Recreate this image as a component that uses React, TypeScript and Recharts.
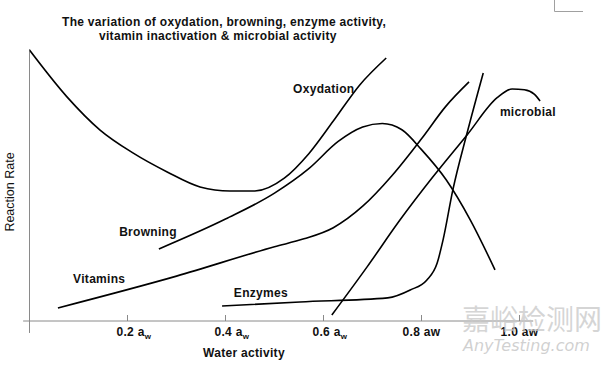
import React from 'react';
import { LineChart, Line, XAxis, YAxis, ReferenceLine, ReferenceDot } from 'recharts';

// water activity (x) vs relative reaction rate (y, 0-100)
const oxydationX = [0, 0.076, 0.144, 0.211, 0.281, 0.348, 0.409, 0.46, 0.52, 0.57, 0.62, 0.674, 0.728];
const oxydationY = [99.6, 82.5, 70.2, 61.8, 54.8, 49.3, 47.8, 47.8, 52.5, 61.5, 73.5, 86.8, 96.7];

const browningX = [0.264, 0.4, 0.5, 0.57, 0.63, 0.68, 0.72, 0.76, 0.8, 0.85, 0.9, 0.95];
const browningY = [26.5, 37.5, 47, 56, 66, 71.3, 72.6, 70.3, 63, 52, 37, 18.8];

const vitaminsX = [0.058, 0.3, 0.5, 0.56, 0.62, 0.68, 0.74, 0.8, 0.85, 0.897];
const vitaminsY = [4.8, 16.5, 27.3, 30.2, 34.3, 42.2, 53.5, 67, 79, 87.9];

const enzymesX = [0.393, 0.552, 0.731, 0.777, 0.811, 0.832, 0.844, 0.864, 0.893, 0.926];
const enzymesY = [5.5, 7.0, 8.5, 11.4, 15.1, 21.3, 29.8, 48.2, 69.1, 91.2];

const microbialX = [0.617, 0.689, 0.756, 0.823, 0.893, 0.955, 0.985, 1.01, 1.03, 1.042];
const microbialY = [2.2, 19.9, 37.1, 52.9, 68.4, 82.2, 85.3, 85.0, 83.4, 80.9];

const tickValues = [0.2, 0.4, 0.6, 0.8, 1.0];
const tickLabels = ['0.2', '0.4', '0.6', '0.8', '1.0'];
const tickSubscript = [true, true, true, false, false];

const seriesNames = ['Oxydation', 'Browning', 'Vitamins', 'Enzymes', 'microbial'];
// where each curve name sits (data coords, left baseline)
const nameX = [0.538, 0.183, 0.089, 0.417, 0.96];
const nameY = [83.8, 31.3, 14.0, 8.8, 75.4];

const toPoints = (xs: number[], ys: number[]) => xs.map((x, i) => ({ x, y: ys[i] }));

const FONT = '"Liberation Sans", Arial, sans-serif';
const AXIS_COLOR = '#8a8a8a';

function WaTick(props: any) {
  const { x, y, payload, index } = props;
  const i = tickValues.indexOf(payload.value);
  const label = tickLabels[i >= 0 ? i : index];
  const sub = tickSubscript[i >= 0 ? i : index];
  return (
    <g>
      <line x1={x} x2={x} y1={y} y2={y - 6} stroke={AXIS_COLOR} strokeWidth={1} />
      <text
        x={sub ? x - 11 : x}
        y={y + 15}
        textAnchor={sub ? 'start' : 'middle'}
        fontFamily={FONT}
        fontWeight="bold"
        fontSize={12}
        letterSpacing={0.3}
        fill="#111"
      >
        {label} a
        {sub ? (
          <tspan fontSize={8} dy={3}>w</tspan>
        ) : (
          'w'
        )}
      </text>
    </g>
  );
}

const seriesData = [
  toPoints(oxydationX, oxydationY),
  toPoints(browningX, browningY),
  toPoints(vitaminsX, vitaminsY),
  toPoints(enzymesX, enzymesY),
  toPoints(microbialX, microbialY),
];

export default function App() {
  return (
    <div style={{ position: 'absolute', left: 0, top: 0, width: 612, height: 365, background: '#fff' }}>
      <LineChart
        width={612}
        height={365}
        margin={{ top: 49, right: 43.5, left: 29.5, bottom: 14 }}
      >
        <XAxis
          type="number"
          dataKey="x"
          domain={[0, 1.1]}
          ticks={tickValues}
          interval={0}
          axisLine={false}
          tickLine={false}
          tickSize={0}
          tickMargin={0}
          height={30}
          tick={<WaTick />}
          allowDataOverflow
        />
        <YAxis type="number" dataKey="y" domain={[0, 100]} hide allowDataOverflow />
        <ReferenceLine
          segment={[{ x: -0.013, y: 0 }, { x: 1.028, y: 0 }]}
          stroke={AXIS_COLOR}
          strokeWidth={1}
          ifOverflow="visible"
        />
        <ReferenceLine
          segment={[{ x: 0, y: -4.4 }, { x: 0, y: 100 }]}
          stroke={AXIS_COLOR}
          strokeWidth={1}
          ifOverflow="visible"
        />
        {seriesData.map((d, i) => (
          <Line
            key={seriesNames[i]}
            data={d}
            dataKey="y"
            type="monotone"
            stroke="#000"
            strokeWidth={1.6}
            dot={false}
            isAnimationActive={false}
          />
        ))}
        {seriesNames.map((name, i) => (
          <ReferenceDot
            key={'lbl' + name}
            x={nameX[i]}
            y={nameY[i]}
            r={0}
            ifOverflow="visible"
            shape={(p: any) => (
              <text
                x={p.cx}
                y={p.cy}
                fontFamily={FONT}
                fontWeight="bold"
                fontSize={12}
                letterSpacing={0.3}
                fill="#111"
              >
                {name}
              </text>
            )}
          />
        ))}
      </LineChart>
      <svg
        width={612}
        height={365}
        style={{ position: 'absolute', left: 0, top: 0, pointerEvents: 'none' }}
      >
        <text x={62} y={26} fontFamily={FONT} fontWeight="bold" fontSize={12} letterSpacing={0.3} fill="#111">
          The variation of oxydation, browning, enzyme activity,
        </text>
        <text x={99} y={40} fontFamily={FONT} fontWeight="bold" fontSize={12} letterSpacing={0.3} fill="#111">
          vitamin inactivation &amp; microbial activity
        </text>
        <text
          x={14}
          y={192}
          transform="rotate(-90 14 192)"
          textAnchor="middle"
          fontFamily={FONT}
          fontSize={12.5}
          fill="#111"
        >
          Reaction Rate
        </text>
        <text x={244} y={357} textAnchor="middle" fontFamily={FONT} fontWeight="bold" fontSize={12} letterSpacing={0.3} fill="#111">
          Water activity
        </text>
        <path d="M554.5 0 V11.5 H583" fill="none" stroke="#a0a0a0" strokeWidth={1} />
        <text x={462} y={330} fontFamily='"Noto Sans CJK SC", sans-serif' fontSize={28} fill="#c8c8c8" fillOpacity={0.75}>
          嘉峪检测网
        </text>
        <text x={463} y={351} fontFamily='"DejaVu Sans", sans-serif' fontStyle="italic" fontSize={16} fill="#c8c8c8" fillOpacity={0.85}>
          AnyTesting.com
        </text>
      </svg>
    </div>
  );
}
